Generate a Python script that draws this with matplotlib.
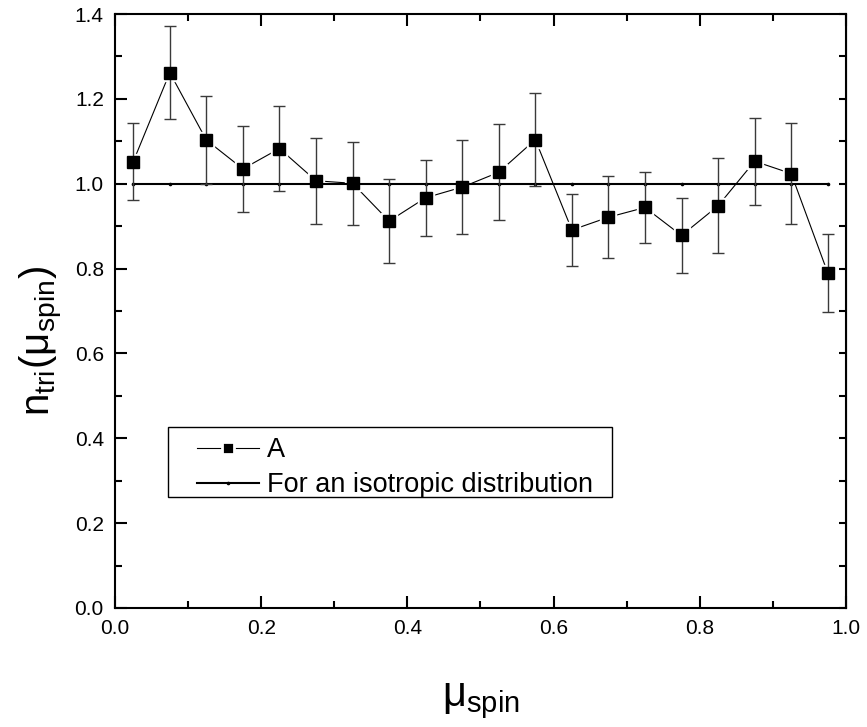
import numpy as np
import matplotlib
matplotlib.use("Agg")
import matplotlib.pyplot as plt
from matplotlib.lines import Line2D
from matplotlib.patches import Rectangle

plt.rcParams['font.family'] = ['Liberation Sans', 'DejaVu Sans']
plt.rcParams['mathtext.fontset'] = 'custom'
plt.rcParams['mathtext.rm'] = 'Liberation Sans'
plt.rcParams['mathtext.it'] = 'Liberation Sans'

# bin centres of mu_spin
mu_spin = [0.025, 0.075, 0.125, 0.175, 0.225, 0.275, 0.325, 0.375, 0.425, 0.475,
           0.525, 0.575, 0.625, 0.675, 0.725, 0.775, 0.825, 0.875, 0.925, 0.975]
# sample A
n_tri = [1.052, 1.262, 1.103, 1.035, 1.083, 1.007, 1.001, 0.912, 0.967, 0.992,
         1.027, 1.104, 0.891, 0.921, 0.944, 0.878, 0.948, 1.053, 1.024, 0.790]
n_err = [0.090, 0.110, 0.103, 0.101, 0.101, 0.101, 0.098, 0.100, 0.090, 0.111,
         0.113, 0.110, 0.085, 0.097, 0.084, 0.089, 0.112, 0.102, 0.118, 0.092]
# isotropic reference
iso = [1.0] * len(mu_spin)

fig = plt.figure(figsize=(8.67, 7.27), dpi=100)
ax = fig.add_axes([0.1326, 0.1637, 0.9758 - 0.1326, 0.9807 - 0.1637])

# data: line, white halo behind markers, error bars, markers
ax.plot(mu_spin, n_tri, color='black', lw=0.8, zorder=3)
ax.plot(mu_spin, n_tri, ls='none', marker='s', ms=12, color='white', zorder=4)
# isotropic line
ax.plot(mu_spin, iso, color='black', lw=1.5, marker='o', ms=1.6, zorder=4.5)
ax.errorbar(mu_spin, n_tri, yerr=n_err, fmt='none', ecolor='#3a3a3a',
            elinewidth=1.0, capsize=4, capthick=1.0, zorder=5)
ax.plot(mu_spin, n_tri, ls='none', marker='s', ms=8, color='black', zorder=6)

ax.set_xlim(0, 1.0)
ax.set_ylim(0, 1.4)
ax.set_xticks(np.arange(0, 1.01, 0.2))
ax.set_yticks(np.arange(0, 1.41, 0.2))
ax.set_xticks(np.arange(0.1, 1.0, 0.2), minor=True)
ax.set_yticks(np.arange(0.1, 1.4, 0.2), minor=True)
ax.xaxis.set_major_formatter(matplotlib.ticker.FormatStrFormatter('%.1f'))
ax.yaxis.set_major_formatter(matplotlib.ticker.FormatStrFormatter('%.1f'))

for s in ax.spines.values():
    s.set_linewidth(1.5)
ax.tick_params(which='major', direction='in', length=8.5, width=1.5,
               top=True, right=False, labelsize=15, pad=8)
ax.tick_params(which='minor', direction='in', length=5, width=1.5,
               top=True, right=False)

# right side ticks are all short
sec = ax.secondary_yaxis('right')
sec.set_yticks(np.arange(0, 1.41, 0.1))
sec.tick_params(direction='in', length=5, width=1.5, labelright=False)

ax.set_xlabel(r'$\mathregular{\mu_{spin}}$', fontsize=30, labelpad=31)
ax.set_ylabel(r'$\mathregular{n_{tri}(\mu_{spin})}$', fontsize=29)
ax.yaxis.set_label_coords(-0.068, 0.45)

# legend box drawn separately (wide left margin like the original)
ax.add_patch(Rectangle((0.0725, 0.1869), 0.680 - 0.0725, 0.3047 - 0.1869,
                       transform=ax.transAxes, fill=False, edgecolor='black',
                       linewidth=1.0, zorder=7))
h_a = Line2D([], [], color='black', lw=0.8, marker='s', ms=9,
             mfc='black', mec='white', mew=2)
h_iso = Line2D([], [], color='black', lw=1.5, marker='o', ms=1.6)
leg = ax.legend([h_a, h_iso], ['A', 'For an isotropic distribution'],
                loc='upper left', bbox_to_anchor=(0.101, 0.301),
                fontsize=19.5, numpoints=1, handlelength=2.3,
                handletextpad=0.3, labelspacing=0.32, borderpad=0.3,
                borderaxespad=0, frameon=False)
leg.set_zorder(8)

fig.savefig('out.png', dpi=100)
